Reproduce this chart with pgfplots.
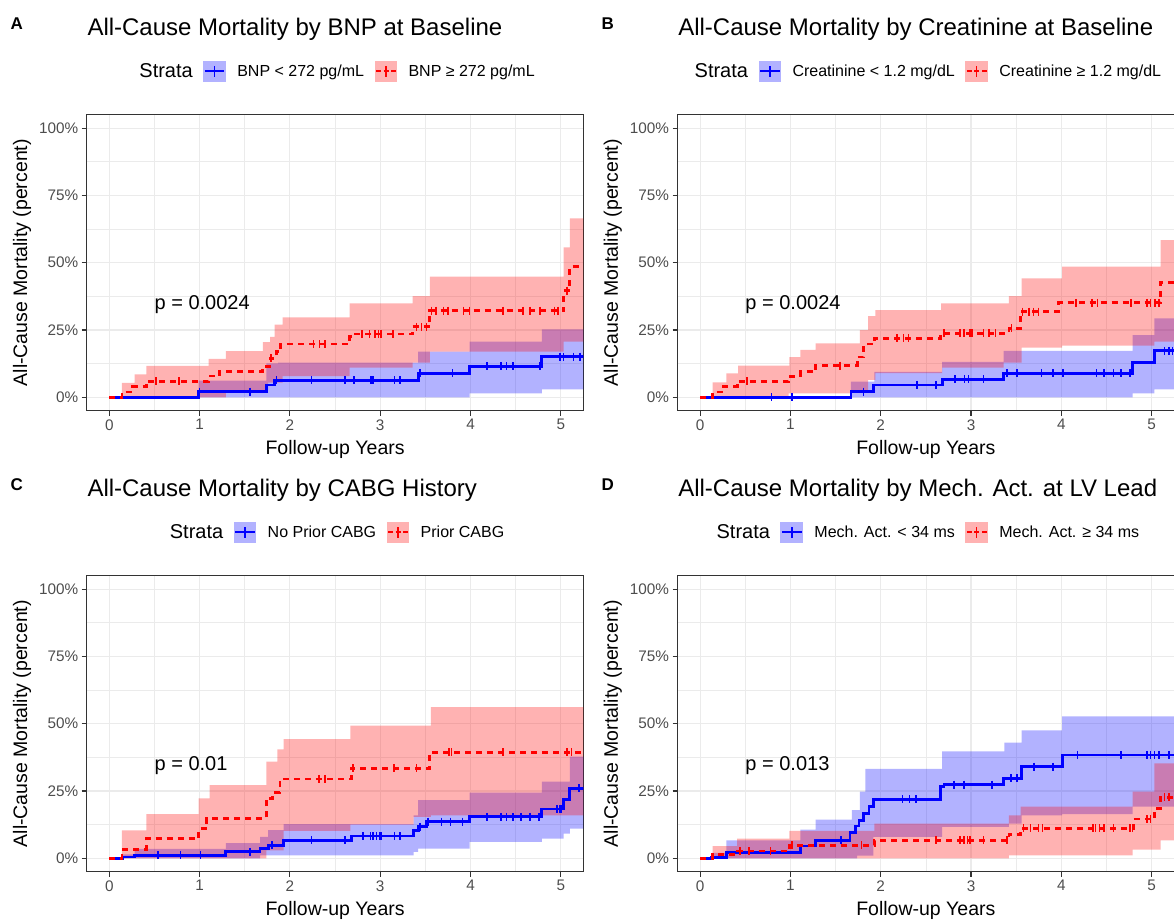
\documentclass[border=0pt]{standalone}
\usepackage{pgfplots}
\pgfplotsset{compat=1.18}
\usepgfplotslibrary{fillbetween}
\usepackage{fontspec}
\setmainfont{Liberation Sans}
\definecolor{gridc}{HTML}{EBEBEB}
\definecolor{axc}{HTML}{333333}
\definecolor{tlc}{HTML}{4D4D4D}
\pgfplotsset{
 km/.style={
   scale only axis, width=496.7pt, height=296.2pt,
   xmin=-0.25, xmax=5.25, ymin=-5, ymax=105,
   xtick={0,1,2,3,4,5}, xticklabels={0,1,2,3,4,5},
   ytick={0,25,50,75,100}, yticklabels={0\%,25\%,50\%,75\%,100\%},
   minor xtick={0.5,1.5,2.5,3.5,4.5}, minor ytick={12.5,37.5,62.5,87.5},
   grid=both, major grid style={gridc, line width=1.1pt}, minor grid style={gridc, line width=0.6pt},
   tick align=outside, major tick length=5pt, minor tick length=0pt,
   xtick pos=left, ytick pos=left,
   tick style={axc, line width=1.1pt},
   axis line style={axc, line width=1.1pt},
   ticklabel style={font=\fontsize{15.3}{18}\selectfont, text=tlc},
   /pgf/number format/assume math mode=true,
   label style={font=\fontsize{19.5}{23}\selectfont},
   xlabel={Follow-up Years}, ylabel={All-Cause Mortality (percent)},
   xlabel style={at={(axis description cs:0.5,-0.146)}, anchor=base},
   ylabel style={at={(axis description cs:-0.1303,0.5)}, anchor=center},
   legend style={draw=none, fill=none, at={(axis description cs:0.4927,1.147)}, anchor=center,
     legend columns=-1, font=\fontsize{16}{19}\selectfont,
     nodes={inner sep=0pt},
     /tikz/every even column/.append style={column sep=10.5pt},
     /tikz/every odd column/.append style={column sep=11.3pt}},
   legend cell align=left,
 },
 bl/.style={blue, line width=2.8pt, const plot, forget plot},
 rl/.style={red, line width=2.8pt, const plot, dash pattern=on 6pt off 5pt, forget plot},
 bnd/.style={const plot, draw=none, forget plot},
 bc/.style={blue, only marks, mark=|, mark size=4pt, mark options={line width=1.5pt, solid}, forget plot},
 rc/.style={red, only marks, mark=|, mark size=4pt, mark options={line width=1.5pt, solid}, forget plot},
 bf/.style={blue, fill opacity=0.3, draw=none, forget plot},
 rf/.style={red, fill opacity=0.3, draw=none, forget plot},
 limgb/.style={legend image code/.code={
   \path[draw=none, fill=blue, fill opacity=0.3] (0pt,-10.5pt) rectangle (22.7pt,10.5pt);
   \draw[blue, line width=2pt, solid] (1.5pt,0pt) -- (21.2pt,0pt);
   \draw[blue, line width=1.4pt, solid] (11.35pt,-5.5pt) -- (11.35pt,5.5pt);}},
 limgr/.style={legend image code/.code={
   \path[draw=none, fill=red, fill opacity=0.3] (0pt,-10.5pt) rectangle (22.7pt,10.5pt);
   \draw[red, line width=2pt, dash pattern=on 5pt off 2.5pt] (1.5pt,0pt) -- (21.2pt,0pt);
   \draw[red, line width=1.4pt, solid] (11.35pt,-5.5pt) -- (11.35pt,5.5pt);}},
}
\newcommand{\pfont}{\fontsize{20}{24}\selectfont}
\newcommand{\tfont}{\fontsize{24}{28}\selectfont}
\newcommand{\lfont}{\fontsize{17}{20}\selectfont\bfseries}
\begin{document}
\begin{tikzpicture}
% ---------------- Panel A
\begin{axis}[km, at={(86.7pt,-410.8pt)}, anchor=south west]
\addlegendimage{empty legend}\addlegendentry{\pfont Strata}
\addlegendimage{limgb}\addlegendentry{BNP < 272 pg/mL}
\addlegendimage{limgr}\addlegendentry{BNP ≥ 272 pg/mL}
\addplot[bl] coordinates {(0,0) (0.99,2.1) (1.74,4.6) (1.83,6.4) (3.42,8.9) (3.99,11.6) (4.79,15.1) (5.3,15.1)};
\addplot[rl] coordinates {(0,0) (0.14,2) (0.26,4) (0.41,6) (1.10,7.9) (1.22,9.7) (1.70,11.6) (1.78,14.5) (1.85,17) (1.90,19.8) (2.66,22.5) (2.72,23.5) (3.36,26.2) (3.55,32.2) (5.03,39.6) (5.10,48.5) (5.3,48.5)};
\addplot[bnd, name path=Abu] coordinates {(0,0) (0.99,6.2) (1.74,12.6) (1.87,12.9) (3.42,17) (3.99,20.7) (4.79,25.2) (5.3,25.2)};
\addplot[bnd, name path=Abl] coordinates {(0,0) (3.99,1.5) (4.79,3) (5.3,3)};
\addplot[bf] fill between[of=Abu and Abl];
\addplot[bnd, name path=Aru] coordinates {(0,0) (0.14,5.4) (0.28,8.5) (0.41,11.7) (1.10,14.3) (1.29,17.2) (1.70,20.5) (1.78,22.5) (1.83,27) (1.92,29.7) (2.66,34.9) (3.36,37.6) (3.55,44.8) (5.03,55.7) (5.10,66.5) (5.3,66.5)};
\addplot[bnd, name path=Arl] coordinates {(0,0) (1.29,2.7) (1.76,5.5) (1.92,7.9) (2.66,11) (3.36,12.9) (3.55,17) (5.03,20.7) (5.3,20.7)};
\addplot[rf] fill between[of=Aru and Arl];
\addplot[bc] coordinates {(1.0,2.1) (1.56,2.1) (1.85,6.4) (2.24,6.4) (2.61,6.4) (2.71,6.4) (2.90,6.4) (2.92,6.4) (3.16,6.4) (3.22,6.4) (3.44,8.9) (3.80,8.9) (4.18,11.6) (4.34,11.6) (4.40,11.6) (4.47,11.6) (4.77,11.6) (4.99,15.1) (5.03,15.1) (5.14,15.1) (5.21,15.1)};
\addplot[rc] coordinates {(0.52,6) (0.77,6) (1.79,14.5) (2.26,19.8) (2.33,19.8) (2.39,19.8) (2.80,23.5) (2.88,23.5) (2.94,23.5) (2.98,23.5) (3.01,23.5) (3.14,23.5) (3.40,26.2) (3.46,26.2) (3.51,26.2) (3.57,32.2) (3.62,32.2) (3.70,32.2) (3.75,32.2) (3.92,32.2) (3.99,32.2) (4.36,32.2) (4.58,32.2) (4.66,32.2) (4.77,32.2) (4.93,32.2) (4.97,32.2) (5.07,39.6)};
\node[anchor=base west, font=\pfont, inner sep=0pt] at (axis cs:0.5,32.5) {p = 0.0024};
\end{axis}
% ---------------- Panel B
\begin{axis}[km, at={(677.5pt,-410.8pt)}, anchor=south west]
\addlegendimage{empty legend}\addlegendentry{\pfont Strata}
\addlegendimage{limgb}\addlegendentry{Creatinine < 1.2 mg/dL}
\addlegendimage{limgr}\addlegendentry{Creatinine ≥ 1.2 mg/dL}
\addplot[bl] coordinates {(0,0) (1.67,2.1) (1.92,4.6) (2.68,6.7) (3.36,8.9) (4.79,12.9) (5.03,17.3) (5.3,17.3)};
\addplot[rl] coordinates {(0,0) (0.14,2) (0.26,4) (0.41,6) (0.98,7.7) (1.11,9.5) (1.28,11.8) (1.74,15) (1.81,18.5) (1.86,19.8) (1.93,21.9) (2.66,23.8) (3.42,25.6) (3.55,31.8) (3.97,35.1) (5.10,42.6) (5.3,42.6)};
\addplot[bnd, name path=Bbu] coordinates {(0,0) (1.67,5.8) (1.93,9.5) (2.68,13.2) (3.36,17.3) (4.79,23.1) (5.03,29.3) (5.3,29.3)};
\addplot[bnd, name path=Bbl] coordinates {(0,0) (4.79,1.5) (5.03,3) (5.3,3)};
\addplot[bf] fill between[of=Bbu and Bbl];
\addplot[bnd, name path=Bru] coordinates {(0,0) (0.14,5.6) (0.29,8.9) (0.42,11.8) (0.99,14.9) (1.11,17.6) (1.28,20) (1.77,25) (1.86,30.2) (1.94,32.4) (2.67,34.9) (3.42,37.6) (3.56,44.2) (4.01,48.5) (5.10,58.4) (5.3,58.4)};
\addplot[bnd, name path=Brl] coordinates {(0,0) (0.98,1.5) (1.66,2.7) (1.86,6.5) (1.94,9) (2.68,11) (3.36,12.9) (3.56,18.5) (4.01,19.2) (5.03,20.7) (5.3,20.7)};
\addplot[rf] fill between[of=Bru and Brl];
\addplot[bc] coordinates {(0.79,0) (1.02,0) (1.81,2.1) (2.40,4.6) (2.61,4.6) (2.82,6.7) (2.93,6.7) (2.97,6.7) (3.14,6.7) (3.40,8.9) (3.51,8.9) (3.78,8.9) (3.91,8.9) (4.02,8.9) (4.39,8.9) (4.47,8.9) (4.58,8.9) (4.66,8.9) (4.76,8.9) (5.14,17.3) (5.19,17.3) (5.23,17.3)};
\addplot[rc] coordinates {(0.52,6) (1.55,11.8) (2.18,21.9) (2.25,21.9) (2.31,21.9) (2.70,23.8) (2.88,23.8) (2.92,23.8) (2.99,23.8) (3.01,23.8) (3.14,23.8) (3.20,23.8) (3.27,23.8) (3.45,25.6) (3.57,31.8) (3.64,31.8) (3.69,31.8) (3.75,31.8) (4.16,35.1) (4.34,35.1) (4.40,35.1) (4.77,35.1) (4.95,35.1) (4.99,35.1) (5.04,35.1) (5.08,35.1)};
\node[anchor=base west, font=\pfont, inner sep=0pt] at (axis cs:0.5,32.5) {p = 0.0024};
\end{axis}
% ---------------- Panel C
\begin{axis}[km, at={(86.7pt,-871.8pt)}, anchor=south west]
\addlegendimage{empty legend}\addlegendentry{\pfont Strata}
\addlegendimage{limgb}\addlegendentry{No Prior CABG}
\addlegendimage{limgr}\addlegendentry{Prior CABG}
\addplot[bl] coordinates {(0,0) (0.15,0.5) (0.28,1.1) (1.29,2.4) (1.67,3.6) (1.76,4.9) (1.93,6.7) (2.68,8.3) (3.37,10.2) (3.42,11.7) (3.51,13.6) (3.99,15.4) (4.79,18.3) (5.03,21.9) (5.10,26) (5.3,26)};
\addplot[rl] coordinates {(0,0) (0.14,3.4) (0.41,7.3) (0.99,11) (1.08,14.8) (1.74,22.3) (1.81,24.5) (1.89,29.5) (2.68,33.5) (3.55,39.4) (5.3,39.4)};
\addplot[bnd, name path=Cbu] coordinates {(0,0) (0.15,1.5) (0.28,3.5) (1.29,5.7) (1.67,8) (1.76,10.5) (1.93,12.7) (3.37,16) (3.42,21.6) (3.99,24.4) (4.79,28.5) (5.10,37.8) (5.3,37.8)};
\addplot[bnd, name path=Cbl] coordinates {(0,0) (1.67,1.1) (3.37,2.4) (3.42,3.6) (3.99,6.1) (4.79,7.3) (5.03,9.2) (5.10,11) (5.3,11)};
\addplot[bf] fill between[of=Cbu and Cbl];
\addplot[bnd, name path=Cru] coordinates {(0,0) (0.14,10.4) (0.41,16.4) (0.99,22.3) (1.11,27.2) (1.74,35.9) (1.86,40.5) (1.93,44.3) (2.67,49.3) (3.56,56.2) (5.3,56.2)};
\addplot[bnd, name path=Crl] coordinates {(0,0) (1.74,3) (1.93,10.2) (2.67,12.5) (3.37,15.4) (3.56,16) (5.3,16)};
\addplot[rf] fill between[of=Cru and Crl];
\addplot[bc] coordinates {(0.54,1.1) (0.79,1.1) (1.01,1.1) (1.56,2.4) (1.80,4.9) (2.24,6.7) (2.61,6.7) (2.81,8.3) (2.89,8.3) (2.92,8.3) (2.96,8.3) (2.99,8.3) (3.01,8.3) (3.16,8.3) (3.22,8.3) (3.44,11.7) (3.53,13.6) (3.68,13.6) (3.78,13.6) (3.91,13.6) (4.18,15.4) (4.34,15.4) (4.40,15.4) (4.47,15.4) (4.56,15.4) (4.66,15.4) (4.76,15.4) (4.96,18.3) (4.99,18.3) (5.01,18.3) (5.20,26)};
\addplot[rc] coordinates {(2.32,29.5) (2.39,29.5) (2.70,33.5) (3.15,33.5) (3.40,33.5) (3.76,39.4) (3.79,39.4) (4.36,39.4) (5.07,39.4) (5.12,39.4)};
\node[anchor=base west, font=\pfont, inner sep=0pt] at (axis cs:0.5,32.5) {p = 0.01};
\end{axis}
% ---------------- Panel D
\begin{axis}[km, at={(677.5pt,-871.8pt)}, anchor=south west]
\addlegendimage{empty legend}\addlegendentry{\pfont Strata}
\addlegendimage{limgb}\addlegendentry{Mech. Act. < 34 ms}
\addlegendimage{limgr}\addlegendentry{Mech. Act. ≥ 34 ms}
\addplot[bl] coordinates {(0,0) (0.13,0.3) (0.29,2.1) (1.11,4.6) (1.28,6.7) (1.66,9.5) (1.72,12) (1.76,14.2) (1.81,16.7) (1.87,19.2) (1.92,22) (2.66,26.6) (2.70,27.4) (3.36,29.7) (3.56,34.1) (4.01,38.4) (5.3,38.4)};
\addplot[rl] coordinates {(0,0) (0.14,1.4) (0.41,2.7) (0.99,4.9) (1.93,6.7) (3.42,9) (3.55,11.1) (4.80,14.6) (5.03,18.5) (5.10,22.6) (5.3,22.6)};
\addplot[bnd, name path=Dbu] coordinates {(0,0) (0.13,2) (0.29,6.7) (1.11,10.7) (1.28,14.4) (1.68,17.9) (1.77,24.8) (1.83,33.2) (2.68,39.7) (3.37,43) (3.56,47.5) (4.01,52.7) (5.3,52.7)};
\addplot[bnd, name path=Dbl] coordinates {(0,0) (1.74,1) (1.92,8) (2.68,11.7) (3.42,12.9) (3.56,16) (4.01,16.4) (4.79,19.2) (5.3,19.2)};
\addplot[bf] fill between[of=Dbu and Dbl];
\addplot[bnd, name path=Dru] coordinates {(0,0) (0.14,4.5) (0.41,7.3) (0.99,10.2) (1.93,12.9) (3.42,16) (3.55,19.2) (4.79,24.8) (5.03,35.3) (5.3,35.3)};
\addplot[bnd, name path=Drl] coordinates {(0,0) (3.42,1.1) (4.79,3.2) (5.10,6.7) (5.3,6.7)};
\addplot[rf] fill between[of=Dru and Drl];
\addplot[bc] coordinates {(1.56,6.7) (2.24,22) (2.32,22) (2.39,22) (2.81,27.4) (2.92,27.4) (3.23,27.4) (3.44,29.7) (3.51,29.7) (3.70,34.1) (3.91,34.1) (4.18,38.4) (4.66,38.4) (4.95,38.4) (4.99,38.4) (5.03,38.4) (5.08,38.4) (5.19,38.4)};
\addplot[rc] coordinates {(0.44,2.7) (0.54,2.7) (0.78,2.7) (1.02,4.9) (1.79,4.9) (2.61,6.7) (2.88,6.7) (2.92,6.7) (2.96,6.7) (2.99,6.7) (3.14,6.7) (3.40,6.7) (3.58,11.1) (3.66,11.1) (3.75,11.1) (3.79,11.1) (4.35,11.1) (4.38,11.1) (4.42,11.1) (4.47,11.1) (4.58,11.1) (4.76,11.1) (4.79,11.1) (4.95,14.6) (4.99,14.6) (5.14,22.6) (5.19,22.6)};
\node[anchor=base west, font=\pfont, inner sep=0pt] at (axis cs:0.5,32.5) {p = 0.013};
\end{axis}
% ---------------- titles and panel letters
\node[anchor=base west, font=\lfont, inner sep=0pt] at (10.5pt,-29.3pt) {A};
\node[anchor=base west, font=\lfont, inner sep=0pt] at (601.3pt,-29.3pt) {B};
\node[anchor=base west, font=\lfont, inner sep=0pt] at (10.5pt,-490.3pt) {C};
\node[anchor=base west, font=\lfont, inner sep=0pt] at (601.3pt,-490.3pt) {D};
\node[anchor=base west, font=\tfont, inner sep=0pt] at (87.3pt,-35pt) {All-Cause Mortality by BNP at Baseline};
\node[anchor=base west, font=\tfont, inner sep=0pt] at (678.1pt,-35pt) {All-Cause Mortality by Creatinine at Baseline};
\node[anchor=base west, font=\tfont, inner sep=0pt] at (87.3pt,-496pt) {All-Cause Mortality by CABG History};
\node[anchor=base west, font=\tfont, inner sep=0pt] at (678.1pt,-496pt) {All-Cause Mortality by Mech. Act. at LV Lead};
\pgfresetboundingbox
\useasboundingbox (0pt,0pt) rectangle (1174pt,-919pt);
\end{tikzpicture}
\end{document}
